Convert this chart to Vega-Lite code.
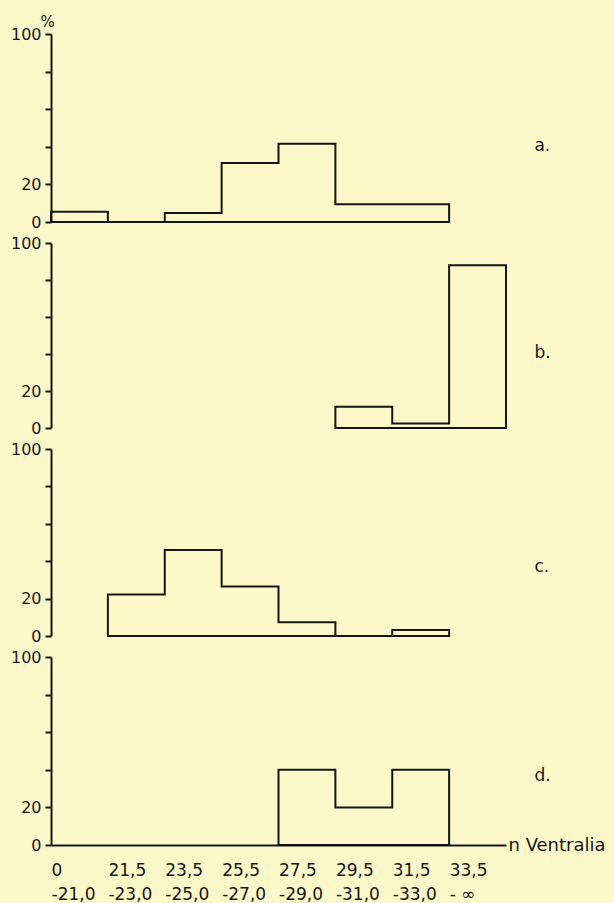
{
  "$schema": "https://vega.github.io/schema/vega-lite/v6.json",
  "background": "#fcf8c9",
  "padding": {"left": 10, "top": 14, "right": 10, "bottom": 6},
  "bounds": "flush",
  "spacing": 21,
  "config": {
    "view": {"stroke": null},
    "font": "DejaVu Sans",
    "axis": {"domainColor": "#151515", "tickColor": "#151515", "labelColor": "#151515", "titleColor": "#151515", "domainWidth": 2, "tickWidth": 2, "grid": false, "labelFont": "DejaVu Sans", "titleFont": "DejaVu Sans", "labelOverlap": false, "labelBound": false, "labelFlush": false}
  },
  "datasets": {
    "hist": [
      {"panel": "a", "k": 1, "pct": 5.5},
      {"panel": "a", "k": 2, "pct": 0},
      {"panel": "a", "k": 3, "pct": 4.8},
      {"panel": "a", "k": 4, "pct": 31.4},
      {"panel": "a", "k": 5, "pct": 41.6},
      {"panel": "a", "k": 6, "pct": 9.4},
      {"panel": "a", "k": 7, "pct": 9.4},
      {"panel": "a", "k": 8, "pct": 9.4},
      {"panel": "b", "k": 6, "pct": 11.5},
      {"panel": "b", "k": 7, "pct": 2.5},
      {"panel": "b", "k": 8, "pct": 88},
      {"panel": "b", "k": 9, "pct": 88},
      {"panel": "c", "k": 2, "pct": 22.2},
      {"panel": "c", "k": 3, "pct": 46},
      {"panel": "c", "k": 4, "pct": 26.5},
      {"panel": "c", "k": 5, "pct": 7.4},
      {"panel": "c", "k": 6, "pct": 0},
      {"panel": "c", "k": 7, "pct": 3.2},
      {"panel": "c", "k": 8, "pct": 3.2},
      {"panel": "d", "k": 5, "pct": 40},
      {"panel": "d", "k": 6, "pct": 20},
      {"panel": "d", "k": 7, "pct": 40},
      {"panel": "d", "k": 8, "pct": 40}
    ]
  },
  "vconcat": [
    {
      "width": 455, "height": 188,
      "layer": [
        {
          "data": {"name": "hist"},
          "transform": [{"filter": "datum.panel == 'a'"}],
          "mark": {"type": "area", "interpolate": "step-after", "fillOpacity": 0, "stroke": "#151515", "strokeWidth": 2},
          "encoding": {
            "x": {"field": "k", "type": "quantitative", "scale": {"domain": [1, 9], "nice": false, "zero": false}, "axis": null},
            "y": {"field": "pct", "type": "quantitative", "stack": null, "scale": {"domain": [0, 100], "nice": false},
              "axis": {"values": [0, 20, 40, 60, 80, 100], "tickCount": 12, "labelExpr": "datum.value == 0 || datum.value == 20 || datum.value == 100 ? datum.label : ''", "tickSize": 6, "labelPadding": 4, "labelFontSize": 16, "title": "%", "titleAngle": 0, "titleX": -4, "titleY": -8, "titleAlign": "center", "titleBaseline": "alphabetic", "titleFontSize": 15, "titleFontWeight": "normal"}}
          }
        },
        {
          "data": {"values": [{"tag": "a."}]},
          "mark": {"type": "text", "align": "left", "baseline": "alphabetic", "fontSize": 17, "color": "#151515"},
          "encoding": {"x": {"datum": 9.5}, "y": {"datum": 38}, "text": {"field": "tag"}}
        }
      ]
    },
    {
      "width": 455, "height": 185,
      "layer": [
        {
          "data": {"name": "hist"},
          "transform": [{"filter": "datum.panel == 'b'"}],
          "mark": {"type": "area", "interpolate": "step-after", "fillOpacity": 0, "stroke": "#151515", "strokeWidth": 2},
          "encoding": {
            "x": {"field": "k", "type": "quantitative", "scale": {"domain": [1, 9], "nice": false, "zero": false}, "axis": null},
            "y": {"field": "pct", "type": "quantitative", "stack": null, "scale": {"domain": [0, 100], "nice": false},
              "axis": {"values": [0, 20, 40, 60, 80, 100], "tickCount": 12, "labelExpr": "datum.value == 0 || datum.value == 20 || datum.value == 100 ? datum.label : ''", "tickSize": 6, "labelPadding": 4, "labelFontSize": 16, "title": null}}
          }
        },
        {
          "data": {"values": [{"tag": "b."}]},
          "mark": {"type": "text", "align": "left", "baseline": "alphabetic", "fontSize": 17, "color": "#151515"},
          "encoding": {"x": {"datum": 9.5}, "y": {"datum": 38}, "text": {"field": "tag"}}
        }
      ]
    },
    {
      "width": 455, "height": 187,
      "layer": [
        {
          "data": {"name": "hist"},
          "transform": [{"filter": "datum.panel == 'c'"}],
          "mark": {"type": "area", "interpolate": "step-after", "fillOpacity": 0, "stroke": "#151515", "strokeWidth": 2},
          "encoding": {
            "x": {"field": "k", "type": "quantitative", "scale": {"domain": [1, 9], "nice": false, "zero": false}, "axis": null},
            "y": {"field": "pct", "type": "quantitative", "stack": null, "scale": {"domain": [0, 100], "nice": false},
              "axis": {"values": [0, 20, 40, 60, 80, 100], "tickCount": 12, "labelExpr": "datum.value == 0 || datum.value == 20 || datum.value == 100 ? datum.label : ''", "tickSize": 6, "labelPadding": 4, "labelFontSize": 16, "title": null}}
          }
        },
        {
          "data": {"values": [{"tag": "c."}]},
          "mark": {"type": "text", "align": "left", "baseline": "alphabetic", "fontSize": 17, "color": "#151515"},
          "encoding": {"x": {"datum": 9.5}, "y": {"datum": 34}, "text": {"field": "tag"}}
        }
      ]
    },
    {
      "width": 455, "height": 188,
      "layer": [
        {
          "data": {"name": "hist"},
          "transform": [{"filter": "datum.panel == 'd'"}],
          "mark": {"type": "area", "interpolate": "step-after", "fillOpacity": 0, "stroke": "#151515", "strokeWidth": 2},
          "encoding": {
            "x": {"field": "k", "type": "quantitative", "scale": {"domain": [1, 9], "nice": false, "zero": false},
              "axis": {"values": [1, 2, 3, 4, 5, 6, 7, 8], "tickCount": 12, "ticks": false, "labelExpr": "split(['0|-21,0', '21,5|-23,0', '23,5|-25,0', '25,5|-27,0', '27,5|-29,0', '29,5|-31,0', '31,5|-33,0', '33,5|- ∞'][datum.value - 1], '|')", "labelAlign": "left", "labelDx": 6, "labelBaseline": "top", "labelPadding": 17, "labelLineHeight": 24, "labelFontSize": 17, "title": "n Ventralia", "titleAngle": 0, "titleX": 457, "titleY": 5, "titleAlign": "left", "titleBaseline": "alphabetic", "titleFontSize": 18, "titleFontWeight": "normal"}},
            "y": {"field": "pct", "type": "quantitative", "stack": null, "scale": {"domain": [0, 100], "nice": false},
              "axis": {"values": [0, 20, 40, 60, 80, 100], "tickCount": 12, "labelExpr": "datum.value == 0 || datum.value == 20 || datum.value == 100 ? datum.label : ''", "tickSize": 6, "labelPadding": 4, "labelFontSize": 16, "title": null}}
          }
        },
        {
          "data": {"values": [{"tag": "d."}]},
          "mark": {"type": "text", "align": "left", "baseline": "alphabetic", "fontSize": 17, "color": "#151515"},
          "encoding": {"x": {"datum": 9.5}, "y": {"datum": 34}, "text": {"field": "tag"}}
        }
      ]
    }
  ]
}
